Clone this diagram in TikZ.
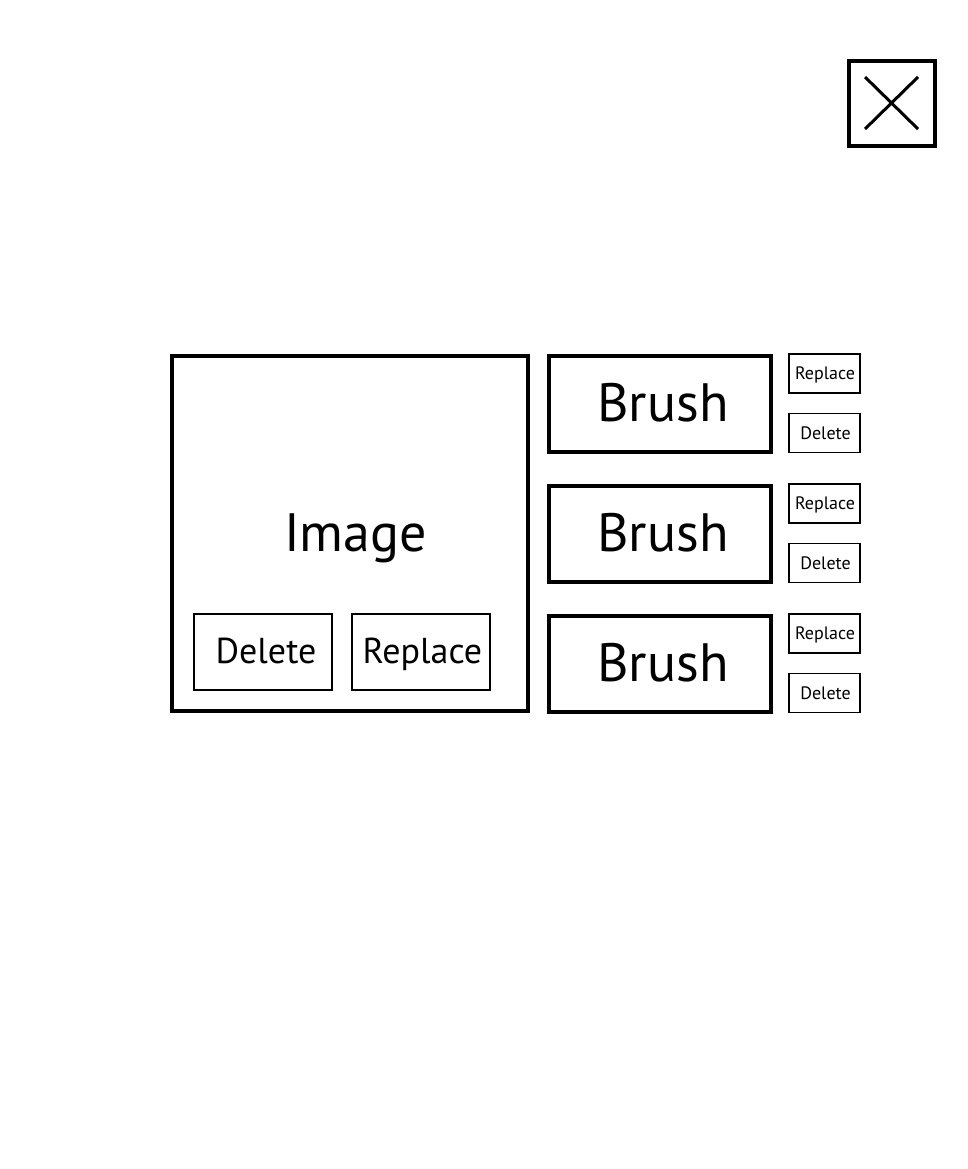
\documentclass[tikz,border=0pt]{standalone}
\usepackage{fontspec}
\setmainfont{PT Sans}
\begin{document}
\begin{tikzpicture}[x=1pt,y=-1pt,
  bigbox/.style={draw=black,line width=4pt,inner sep=0pt},
  midbox/.style={draw=black,line width=2.5pt,inner sep=0pt,minimum width=138pt,minimum height=76pt,text height=22pt,text depth=0pt,font=\fontsize{36}{40}\selectfont},
  smallbox/.style={draw=black,line width=1.6pt,inner sep=0pt,minimum width=71pt,minimum height=39pt,text height=12pt,text depth=0pt,font=\fontsize{18}{20}\selectfont},
  bigfont/.style={font=\fontsize{54}{60}\selectfont,text height=35pt,text depth=0pt},
  lbl/.style={inner sep=0pt}]
\useasboundingbox[fill=white] (0,0) rectangle (967,1169);
% close button
\node[draw=black,line width=4pt,minimum width=86pt,minimum height=85pt,inner sep=0pt] (close) at (891.5,103.5) {};
\coordinate (x1) at (865,77);
\coordinate (x2) at (918,129);
\coordinate (x3) at (918,77);
\coordinate (x4) at (865,129);
\draw[line width=3pt] (x1) -- (x2);
\draw[line width=3pt] (x3) -- (x4);
% image panel
\node[bigbox,minimum width=356pt,minimum height=355pt] (image) at (350,533.5) {};
\node[lbl,bigfont] (imagetxt) at (355.5,533.5) {Image};
\node[midbox] (idel) at (263,652) {\hspace*{6pt}Delete};
\node[midbox] (irep) at (421,652) {\hspace*{3pt}Replace};
% brushes
\node[bigbox,bigfont,minimum width=222pt,minimum height=96pt] (b1) at (660,404) {\hspace*{6pt}Brush};
\node[bigbox,bigfont,minimum width=222pt,minimum height=96pt] (b2) at (660,534) {\hspace*{6pt}Brush};
\node[bigbox,bigfont,minimum width=222pt,minimum height=96pt] (b3) at (660,664) {\hspace*{6pt}Brush};
\node[smallbox] (r1) at (824.5,373.5) {\hspace*{1pt}Replace};
\node[smallbox] (d1) at (824.5,433) {\hspace*{2pt}Delete};
\node[smallbox] (r2) at (824.5,503.5) {\hspace*{1pt}Replace};
\node[smallbox] (d2) at (824.5,563) {\hspace*{2pt}Delete};
\node[smallbox] (r3) at (824.5,633.5) {\hspace*{1pt}Replace};
\node[smallbox] (d3) at (824.5,693) {\hspace*{2pt}Delete};
\end{tikzpicture}
\end{document}
